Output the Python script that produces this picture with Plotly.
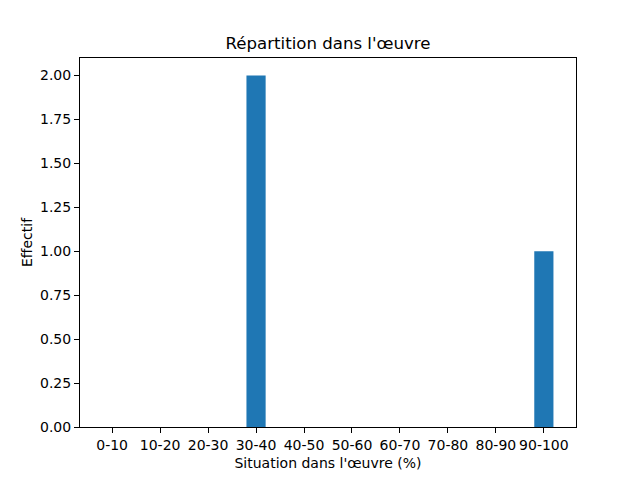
import plotly.graph_objects as go

# Tranches et effectifs
categories = ['0-10', '10-20', '20-30', '30-40', '40-50',
              '50-60', '60-70', '70-80', '80-90', '90-100']
effectifs = [0, 0, 0, 2, 0, 0, 0, 0, 0, 1]
y_ticks = [0.0, 0.25, 0.5, 0.75, 1.0, 1.25, 1.5, 1.75, 2.0]

fig = go.Figure()
fig.add_trace(go.Bar(x=list(range(len(categories))), y=effectifs, width=0.4,
                     marker=dict(color='#1f77b4', line=dict(width=0))))

axis_style = dict(showline=True, linecolor='black', linewidth=1, mirror=True,
                  ticks='outside', ticklen=5, tickcolor='black', tickwidth=1,
                  showgrid=False, zeroline=False,
                  tickfont=dict(size=14, color='black'))

# la page a une marge de 8px autour du graphique
fig.update_layout(
    width=640, height=480,
    margin=dict(l=72, r=72, t=50, b=61),
    paper_bgcolor='white', plot_bgcolor='white',
    font=dict(family='DejaVu Sans', color='black'),
    title=dict(text="Répartition dans l'œuvre", x=0.5, xanchor='center',
               y=1 - 35 / 480, yanchor='middle', font=dict(size=16.6)),
    showlegend=False,
)
fig.update_xaxes(range=[-0.67, 9.67], tickvals=list(range(len(categories))),
                 ticktext=categories,
                 title=dict(text="Situation dans l'œuvre (%)", font=dict(size=14), standoff=6),
                 **axis_style)
fig.update_yaxes(range=[0, 2.1], tickvals=y_ticks,
                 ticktext=[f'{v:.2f}' for v in y_ticks],
                 title=dict(text='Effectif', font=dict(size=14), standoff=4),
                 **axis_style)

fig.write_html("out.html")
